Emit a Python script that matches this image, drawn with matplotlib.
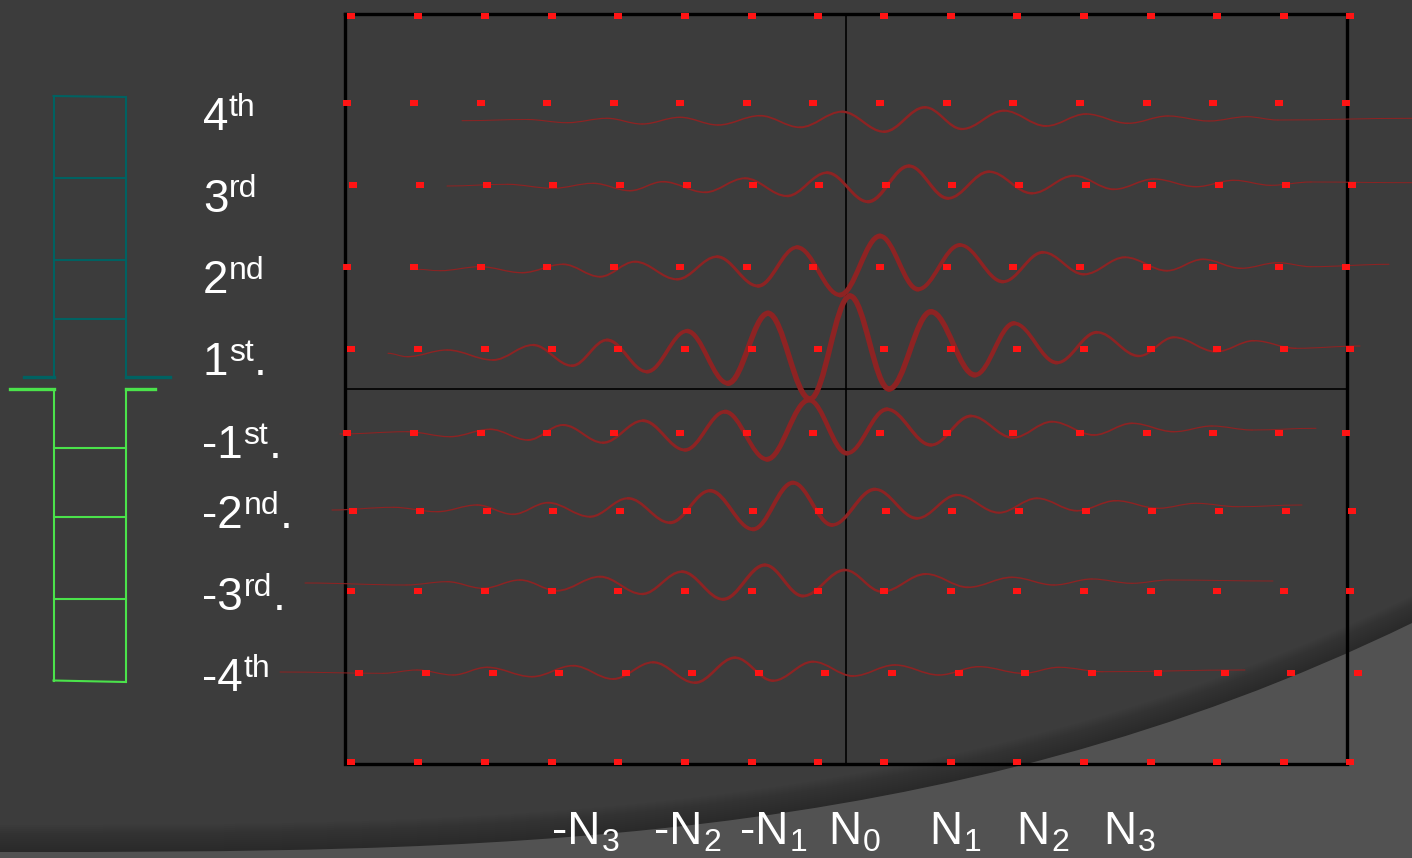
import matplotlib
matplotlib.use("Agg")
import matplotlib.pyplot as plt
from matplotlib.path import Path
from matplotlib.patches import PathPatch

plt.rcParams['font.family'] = ['Liberation Sans', 'DejaVu Sans']

# ---------------- data ----------------
level_main = ['4', '3', '2', '1', '-1', '-2', '-3', '-4']
level_sup = ['th', 'rd', 'nd', 'st', 'st', 'nd', 'rd', 'th']
level_dot = ['', '', '', '.', '.', '.', '.', '']

order_main = ['-N', '-N', '-N', 'N', 'N', 'N', 'N']
order_sub = ['3', '2', '1', '0', '1', '2', '3']

# red sample markers: one row per level (plus frame top / bottom)
dot_rows_y = [16, 102.5, 184.5, 267, 349, 433, 510.5, 590.5, 672.5, 762]
dot_cols_a = [347, 414, 481, 547, 614, 680, 747, 813, 880, 947, 1013, 1080, 1147, 1213, 1279, 1346]
dot_cols_b = [351, 418, 485, 552, 618, 685, 752, 818, 884, 951, 1017, 1084, 1151, 1217, 1284, 1350]
dot_cols_c = [353, 420, 487, 553, 620, 687, 753, 819, 886, 952, 1019, 1086, 1152, 1219, 1286, 1352]
dot_cols_d = [359, 426, 493, 559, 626, 692, 759, 825, 892, 959, 1025, 1092, 1158, 1225, 1291, 1358]
dot_rows_cols = [dot_cols_b, dot_cols_a, dot_cols_c, dot_cols_a, dot_cols_b,
                 dot_cols_a, dot_cols_c, dot_cols_b, dot_cols_d, dot_cols_b]

# wave extrema (x, y) for each order
wave_4th_x = [462, 527, 567, 607, 642, 680, 718, 760, 800, 842, 884, 925, 962, 1004, 1046, 1086, 1128, 1168, 1209, 1247, 1278, 1412]
wave_4th_y = [120.7, 119.5, 122.7, 118.3, 124, 117.3, 125, 115.7, 127.3, 111.7, 131.7, 107.3, 129, 110.7, 126, 114, 123.3, 116, 121, 116.7, 120, 118.3]

wave_3rd_x = [447, 507, 553, 593, 630, 663, 705, 745, 787, 827, 868, 909, 948, 989, 1032, 1074, 1114, 1154, 1196, 1234, 1271, 1311, 1412]
wave_3rd_y = [186, 184.3, 188.3, 183.3, 190.7, 181.7, 192.3, 178.3, 196, 172.7, 201.7, 166, 198.3, 171.7, 193.3, 175.7, 189.3, 179, 186.7, 180.3, 185.3, 182, 182.7]

wave_2nd_x = [417, 440, 480, 522, 563, 600, 635, 677, 717, 758, 797, 840, 880, 918, 960, 1003, 1043, 1084, 1125, 1167, 1203, 1241, 1278, 1311, 1389]
wave_2nd_y = [269.3, 270.7, 266.7, 272.7, 264.3, 276.7, 261.7, 279.3, 256.7, 286, 247.3, 295, 236, 289.3, 245, 281.7, 252.3, 274.3, 257.3, 270.7, 259.3, 268.3, 262.7, 266.7, 264.3]

wave_1st_x = [388, 407, 447, 493, 533, 572, 607, 647, 687, 728, 768, 810, 850, 889, 931, 975, 1014, 1057, 1097, 1139, 1174, 1216, 1254, 1296, 1360]
wave_1st_y = [353.3, 356.7, 350, 360, 345, 365.7, 340, 371.7, 331, 383.3, 313.3, 399, 296, 389, 311.7, 375, 323.3, 362.7, 332.3, 356, 337.3, 351.7, 340.7, 348.3, 346]

wave_m1st_x = [340, 407, 450, 490, 528, 563, 603, 643, 685, 725, 767, 809, 847, 887, 931, 971, 1013, 1052, 1094, 1132, 1174, 1212, 1252, 1316]
wave_m1st_y = [434, 431.7, 436.7, 429.3, 440, 425, 442.7, 420.7, 450, 411.7, 459.3, 400, 453.3, 409.3, 445, 416, 437.7, 421.7, 435, 423.3, 431.7, 426, 430, 428.3]

wave_m2nd_x = [332, 393, 437, 477, 513, 548, 590, 628, 670, 710, 753, 793, 832, 875, 917, 957, 999, 1037, 1077, 1116, 1158, 1196, 1238, 1302]
wave_m2nd_y = [510, 507.3, 511.7, 505, 514.3, 502.7, 516.7, 498.3, 522.7, 490.7, 529.3, 482.7, 525, 489.3, 518.3, 495, 512.7, 498.3, 510.7, 500.7, 508.3, 503.3, 506.7, 505]

wave_m3rd_x = [305, 406, 447, 483, 520, 557, 600, 642, 682, 723, 765, 803, 845, 882, 926, 968, 1012, 1054, 1092, 1132, 1169, 1273]
wave_m3rd_y = [583, 585, 581.7, 588.3, 580, 590.7, 576.7, 594, 571.7, 599.3, 565, 596, 570, 591.7, 574, 587.3, 577.3, 585, 579, 583.3, 580, 581]

wave_m4th_x = [280, 383, 417, 453, 487, 532, 573, 613, 653, 695, 735, 773, 813, 853, 895, 939, 979, 1023, 1059, 1103, 1245]
wave_m4th_y = [672, 673.3, 670, 675, 667.3, 676.7, 665.7, 679, 662.3, 682.7, 657.7, 680.7, 661.7, 676, 665, 675, 666.7, 673.3, 667.3, 671.7, 670]

waves = [(wave_4th_x, wave_4th_y), (wave_3rd_x, wave_3rd_y), (wave_2nd_x, wave_2nd_y),
         (wave_1st_x, wave_1st_y), (wave_m1st_x, wave_m1st_y), (wave_m2nd_x, wave_m2nd_y),
         (wave_m3rd_x, wave_m3rd_y), (wave_m4th_x, wave_m4th_y)]

# ---------------- layout / style ----------------
W, H = 1412, 858
BG = '#3c3c3c'
LIGHT = '#525252'
WAVE = '#8e2323'
DOT = '#ff1414'
TEAL = '#006262'
GREEN = '#4be34b'

fig = plt.figure(figsize=(W / 100, H / 100), dpi=100)
fig.patch.set_facecolor(BG)
ax = fig.add_axes([0, 0, 1, 1])
ax.set_xlim(0, W)
ax.set_ylim(H, 0)
ax.axis('off')
ax.set_facecolor(BG)

# background swoosh (slide theme)
def swoosh(dy):
    verts = [(0, 852 - dy), (470, 852 - dy), (941, 852 - dy), (W, 623 - dy),
             (W, H + 5), (0, H + 5), (0, 852 - dy)]
    codes = [Path.MOVETO, Path.CURVE4, Path.CURVE4, Path.CURVE4,
             Path.LINETO, Path.LINETO, Path.CLOSEPOLY]
    return Path(verts, codes)

for k in range(1, 28, 2):
    ax.add_patch(PathPatch(swoosh(k), facecolor='black', edgecolor='none',
                           alpha=0.018, zorder=0.5))
ax.add_patch(PathPatch(swoosh(0), facecolor=LIGHT, edgecolor='none', zorder=0.6))

# frame
fx0, fx1, fy0, fy1 = 345, 1347, 14, 764
ax.plot([fx0, fx1, fx1, fx0, fx0], [fy0, fy0, fy1, fy1, fy0], color='black', lw=2.4,
        solid_joinstyle='miter', zorder=2)
ax.plot([846, 846], [fy0, fy1], color='black', lw=1.2, zorder=2)
ax.plot([fx0, fx1], [388.5, 388.5], color='black', lw=1.2, zorder=2)

# waves: cubic segments between successive extrema, width follows amplitude
for xs, ys in waves:
    for i in range(len(xs) - 1):
        x0, y0, x1, y1 = xs[i], ys[i], xs[i + 1], ys[i + 1]
        d = 0.363 * (x1 - x0)
        p = Path([(x0, y0), (x0 + d, y0), (x1 - d, y1), (x1, y1)],
                 [Path.MOVETO, Path.CURVE4, Path.CURVE4, Path.CURVE4])
        amp = abs(y1 - y0) / 2
        lw = min(0.65 + 0.1 * amp, 3.9)
        ax.add_patch(PathPatch(p, facecolor='none', edgecolor=WAVE, lw=lw,
                               capstyle='round', joinstyle='round', zorder=3))

# red sample markers (slightly wider than tall)
rect_marker = [(-1, -0.72), (1, -0.72), (1, 0.72), (-1, 0.72), (-1, -0.72)]
for y, cols in zip(dot_rows_y, dot_rows_cols):
    ax.plot(cols, [y] * len(cols), ls='none', marker=rect_marker, ms=5.6, mew=0,
            color=DOT, zorder=4)

# ladder diagram (upper levels, teal)
lx0, lx1 = 53.5, 125.7
ax.plot([lx0, lx0], [96, 377], color=TEAL, lw=1.5, zorder=2)
ax.plot([lx1, lx1], [97, 377], color=TEAL, lw=1.5, zorder=2)
ax.plot([lx0, lx1], [96, 97], color=TEAL, lw=1.5, zorder=2)
for ry in [178.3, 260.3, 318.7]:
    ax.plot([lx0, lx1], [ry, ry], color=TEAL, lw=1.5, zorder=2)
ax.plot([24, lx0], [377, 377], color=TEAL, lw=2.4, zorder=2)
ax.plot([lx1, 169.5], [377, 377], color=TEAL, lw=2.4, zorder=2)

# ladder diagram (lower levels, green)
ax.plot([10, lx0], [389.3, 389.3], color=GREEN, lw=2.4, zorder=2)
ax.plot([lx1, 155], [389.3, 389.3], color=GREEN, lw=2.4, zorder=2)
ax.plot([lx0, lx0], [392, 681], color=GREEN, lw=1.5, zorder=2)
ax.plot([lx1, lx1], [389.3, 682], color=GREEN, lw=1.5, zorder=2)
for ry in [447.7, 517.3, 599.3]:
    ax.plot([lx0, lx1], [ry, ry], color=GREEN, lw=1.5, zorder=2)
ax.plot([lx0, lx1], [680.5, 682], color=GREEN, lw=1.5, zorder=2)

# level labels
label_base = [130, 211.5, 293, 375, 458, 528, 610, 691]
for m, s, d, yb in zip(level_main, level_sup, level_dot, label_base):
    x = 202.5 if m.startswith('-') else 203
    t = ax.text(x, yb, m, fontsize=33, color='white', ha='left', va='baseline', zorder=5)
    sp = ax.annotate(s, xy=(1, 1), xycoords=t, xytext=(0.3, 2.5), textcoords='offset points',
                     fontsize=23, color='white', ha='left', va='top', zorder=5)
    if d:
        ax.annotate(d, xy=(1, 0), xycoords=(sp, t), xytext=(0.3, 0), textcoords='offset points',
                    fontsize=33, color='white', ha='left', va='bottom', zorder=5)

# order labels along the bottom
order_x = [552, 653.5, 740, 828.5, 929.5, 1016.5, 1103.5]
for m, s, x in zip(order_main, order_sub, order_x):
    t = ax.text(x, 844, m, fontsize=33, color='white', ha='left', va='baseline', zorder=5)
    ax.annotate(s, xy=(1, 0), xycoords=t, xytext=(1, 2.5), textcoords='offset points',
                fontsize=23, color='white', ha='left', va='baseline', zorder=5)

fig.savefig('out.png', dpi=100, facecolor=BG)
